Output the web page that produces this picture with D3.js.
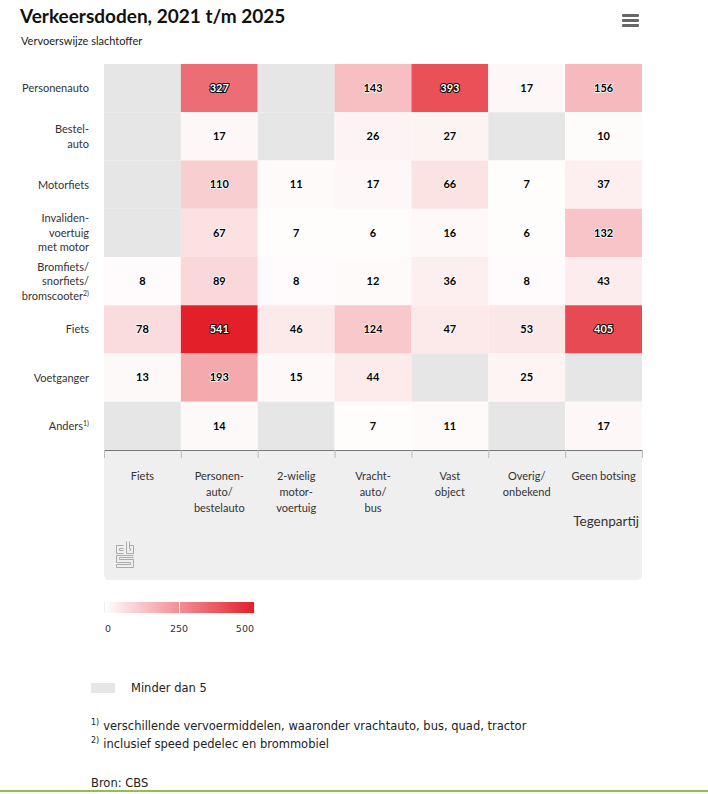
<!DOCTYPE html>
<html>
<head>
<meta charset="utf-8">
<script src="https://cdn.jsdelivr.net/npm/d3@7"></script>
<style>
  body { margin: 0; background: #fff; }
  svg { display: block; }
  .lbl { font-family: Lato, "Open Sans", sans-serif; fill: #333; }
  .note { font-family: "DejaVu Sans", Verdana, sans-serif; fill: #222; }
</style>
</head>
<body>
<div id="chart"></div>
<script>
// victim mode (rows) and opposing party (columns)
var victims = ["Personenauto", "Bestel-|auto", "Motorfiets", "Invaliden-|voertuig|met motor",
  "Bromfiets/|snorfiets/|bromscooter^2)", "Fiets", "Voetganger", "Anders^1)"];
var opponents = ["Fiets", "Personen-|auto/|bestelauto", "2-wielig|motor-|voertuig",
  "Vracht-|auto/|bus", "Vast|object", "Overig/|onbekend", "Geen botsing"];

// null = minder dan 5
var deaths = [
  [null, 327, null, 143, 393, 17, 156],
  [null, 17, null, 26, 27, null, 10],
  [null, 110, 11, 17, 66, 7, 37],
  [null, 67, 7, 6, 16, 6, 132],
  [8, 89, 8, 12, 36, 8, 43],
  [78, 541, 46, 124, 47, 53, 405],
  [13, 193, 15, 44, null, 25, null],
  [null, 14, null, 7, 11, null, 17]
];

var legendTicks = [0, 250, 500];
var footnotes = [
  ["1)", "verschillende vervoermiddelen, waaronder vrachtauto, bus, quad, tractor"],
  ["2)", "inclusief speed pedelec en brommobiel"]
];

var width = 708, height = 794;
var plot = {left: 104, right: 642, top: 64, bottom: 450};

var svg = d3.select("#chart").append("svg")
  .attr("width", width)
  .attr("height", height);

// title + menu
svg.append("text").attr("class", "lbl")
  .attr("x", 20).attr("y", 23)
  .style("font-size", "19px").style("font-weight", "bold").style("fill", "#111")
  .text("Verkeersdoden, 2021 t/m 2025");
svg.append("text").attr("class", "lbl")
  .attr("x", 21).attr("y", 45)
  .style("font-size", "11px").style("fill", "#222")
  .text("Vervoerswijze slachtoffer");
[14, 19, 24].forEach(function(y) {
  svg.append("rect").attr("x", 622).attr("y", y).attr("width", 17).attr("height", 3)
    .attr("rx", 1).attr("fill", "#666");
});

var x = d3.scaleBand().domain(d3.range(opponents.length)).range([plot.left, plot.right]);
var y = d3.scaleBand().domain(d3.range(victims.length)).range([plot.top, plot.bottom]);
var color = d3.scaleLinear().domain([0, 500]).range(["#ffffff", "#e3202a"]).clamp(true);

// grey panel under the x axis
svg.append("path")
  .attr("d", "M" + plot.left + "," + plot.bottom + "H" + plot.right + "V575a5,5 0 0 1 -5,5H" +
    (plot.left + 5) + "a5,5 0 0 1 -5,-5Z")
  .attr("fill", "#efefef");

// cells
var cells = [];
deaths.forEach(function(row, i) {
  row.forEach(function(v, j) { cells.push({r: i, c: j, v: v}); });
});

svg.append("g").selectAll("rect")
  .data(cells)
  .enter().append("rect")
  .attr("x", function(d) { return x(d.c); })
  .attr("y", function(d) { return y(d.r); })
  .attr("width", x.bandwidth())
  .attr("height", y.bandwidth())
  .attr("fill", function(d) { return d.v == null ? "#e6e6e6" : color(d.v); });

svg.append("g").selectAll("text")
  .data(cells.filter(function(d) { return d.v != null; }))
  .enter().append("text")
  .attr("class", "lbl")
  .attr("x", function(d) { return x(d.c) + x.bandwidth() / 2; })
  .attr("y", function(d) { return y(d.r) + y.bandwidth() / 2; })
  .attr("dy", "0.35em")
  .attr("text-anchor", "middle")
  .style("font-size", "11px").style("font-weight", "bold")
  .style("paint-order", "stroke")
  .style("stroke-linejoin", "round")
  .style("fill", function(d) { return d.v > 250 ? "#fff" : "#000"; })
  .style("stroke", function(d) { return d.v > 250 ? "#000" : "#fff"; })
  .style("stroke-width", function(d) { return d.v > 250 ? "2px" : "1.5px"; })
  .text(function(d) { return d.v; });

// multi-line label helper, "^" marks a superscript
function multiline(sel, lineH) {
  sel.each(function(d) {
    var t = d3.select(this), lines = this.__raw.split("|");
    t.text(null);
    var off = -(lines.length - 1) / 2 * lineH;
    lines.forEach(function(line, k) {
      var parts = line.split("^");
      var ts = t.append("tspan").attr("x", t.attr("x"))
        .attr("dy", k === 0 ? (off + 4) + "px" : lineH + "px")
        .text(parts[0]);
      if (parts[1]) {
        t.append("tspan").attr("dy", "-4px").style("font-size", "7px").text(parts[1]);
        t.append("tspan").attr("dy", "4px").text("");
      }
    });
  });
}

// y axis labels
var yAxis = svg.append("g").attr("class", "y__axis")
  .attr("transform", "translate(" + plot.left + ",0)")
  .call(d3.axisLeft(y).tickSize(0).tickPadding(15).tickFormat(function(i) { return victims[i]; }));
yAxis.select(".domain").remove();
yAxis.selectAll(".tick text")
  .attr("class", "lbl")
  .style("font-size", "11px").style("fill", "#333")
  .attr("dy", null)
  .each(function(i) { this.__raw = victims[i]; })
  .call(multiline, 14.5);

// x axis
var xAxis = svg.append("g").attr("class", "x__axis")
  .attr("transform", "translate(0," + plot.bottom + ")")
  .call(d3.axisBottom(x).tickSize(0).tickPadding(30).tickFormat(function(i) { return opponents[i]; }));
xAxis.select(".domain").attr("stroke", "#777");
xAxis.selectAll(".tick text")
  .attr("class", "lbl")
  .style("font-size", "11px").style("fill", "#333")
  .attr("dy", null)
  .each(function(i) { this.__raw = opponents[i]; })
  .call(function(sel) {
    sel.each(function() {
      var t = d3.select(this), lines = this.__raw.split("|");
      t.text(null);
      lines.forEach(function(line, k) {
        t.append("tspan").attr("x", 0).attr("dy", k === 0 ? "0px" : "16px").text(line);
      });
    });
  });

// boundary ticks
svg.append("g").selectAll("line")
  .data(d3.range(opponents.length + 1))
  .enter().append("line")
  .attr("x1", function(i) { return plot.left + i * x.bandwidth() + 0.5; })
  .attr("x2", function(i) { return plot.left + i * x.bandwidth() + 0.5; })
  .attr("y1", plot.bottom).attr("y2", plot.bottom + 8)
  .attr("stroke", "#bbb");

svg.append("text").attr("class", "lbl")
  .attr("x", 639).attr("y", 526)
  .attr("text-anchor", "end")
  .style("font-size", "13.5px").style("fill", "#333")
  .text("Tegenpartij");

// cbs logo
var logo = svg.append("g").attr("transform", "translate(116,541)")
  .attr("fill", "none").attr("stroke", "#aaa").attr("stroke-width", 1);
logo.append("path").attr("d", "M7.5,4.5H0.5V12.5H7.5M7.5,7.5H3.5V9.5H7.5");
logo.append("path").attr("d", "M10.5,0.5V12.5H17.5V4.5H13.5M13.5,0.5V7.5H14.5V9.5H13.5");
logo.append("path").attr("d", "M17.5,14.5H0.5V21.5H14.5V23.5H0.5V26.5H17.5V18.5H3.5V16.5H17.5");

// colour legend
var legendScale = d3.scaleLinear().domain([0, 500]).range([104, 254]);
var grad = svg.append("defs").append("linearGradient").attr("id", "grad");
grad.append("stop").attr("offset", "0%").attr("stop-color", color(0));
grad.append("stop").attr("offset", "100%").attr("stop-color", color(500));
svg.append("rect")
  .attr("x", legendScale(0)).attr("y", 602)
  .attr("width", legendScale(500) - legendScale(0)).attr("height", 11)
  .attr("fill", "url(#grad)");
svg.append("g").selectAll("line")
  .data(legendTicks)
  .enter().append("line")
  .attr("x1", function(d) { return legendScale(d) + 0.5; })
  .attr("x2", function(d) { return legendScale(d) + 0.5; })
  .attr("y1", 602).attr("y2", 613)
  .attr("stroke", function(d) { return d === 250 ? "#fff" : "#eee"; });
svg.append("g").selectAll("text")
  .data(legendTicks)
  .enter().append("text")
  .attr("class", "note")
  .attr("x", function(d, i) { return i === 0 ? legendScale(d) + 1 : legendScale(d); })
  .attr("y", 632)
  .attr("text-anchor", function(d, i) { return i === 0 ? "start" : i === 2 ? "end" : "middle"; })
  .style("font-size", "9.5px").style("fill", "#333")
  .text(function(d) { return d; });

// minder dan 5
svg.append("rect").attr("x", 91).attr("y", 683).attr("width", 24).attr("height", 10).attr("fill", "#e6e6e6");
svg.append("text").attr("class", "note").attr("x", 131).attr("y", 692)
  .style("font-size", "11.5px").text("Minder dan 5");

// footnotes
footnotes.forEach(function(f, i) {
  var t = svg.append("text").attr("class", "note").attr("x", 91).attr("y", 730 + i * 18)
    .style("font-size", "11.5px");
  t.append("tspan").attr("dy", "-5px").style("font-size", "8px").text(f[0]);
  t.append("tspan").attr("dy", "5px").attr("dx", "4px").text(f[1]);
});

svg.append("text").attr("class", "note").attr("x", 91).attr("y", 787)
  .style("font-size", "11.5px").text("Bron: CBS");

svg.append("rect").attr("x", 0).attr("y", 790).attr("width", width).attr("height", 2).attr("fill", "#93c047");
</script>
</body>
</html>
